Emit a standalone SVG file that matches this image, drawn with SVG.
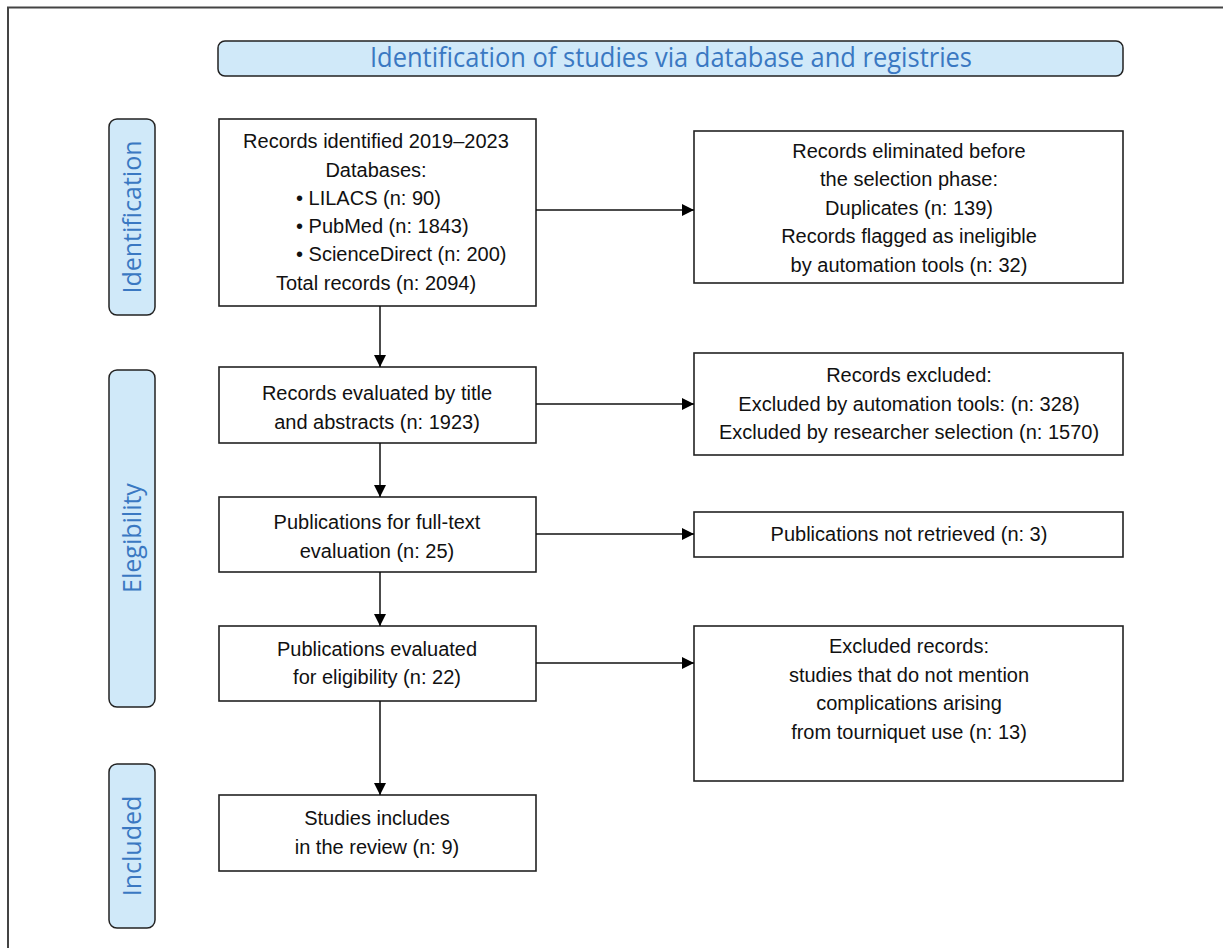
<svg xmlns="http://www.w3.org/2000/svg" width="1223" height="948" viewBox="0 0 1223 948">
<defs>
<marker id="ah" viewBox="0 0 10 10" refX="10" refY="5" markerWidth="12" markerHeight="12" markerUnits="userSpaceOnUse" orient="auto">
<path d="M0,0 L10,5 L0,10 Z" fill="#000"/>
</marker>
</defs>
<style>
.box{fill:#fff;stroke:#222;stroke-width:1.6}
.phase{fill:#d0e9f9;stroke:#222;stroke-width:1.5}
.t{font-family:"Liberation Sans",Arial,sans-serif;font-size:20px;fill:#111;text-anchor:middle}
.tl{font-family:"Liberation Sans",Arial,sans-serif;font-size:20px;fill:#111}
.pt{font-family:"Open Sans","Liberation Sans",sans-serif;font-size:25px;fill:#3a78c2;text-anchor:middle}
.conn{stroke:#111;stroke-width:1.5;fill:none;marker-end:url(#ah)}
</style>
<rect width="1223" height="948" fill="#fff"/>
<path d="M8,948 L8,7.5 L1223,7.5" fill="none" stroke="#444" stroke-width="2"/>

<g id="header">
<rect class="phase" x="218" y="41" width="905" height="35" rx="7"/>
<text class="pt" x="671" y="67" style="font-size:27px" textLength="602" lengthAdjust="spacingAndGlyphs">Identification of studies via database and registries</text>
</g>

<g id="phase-identification">
<rect class="phase" x="109" y="119" width="46" height="196" rx="8"/>
<text class="pt" transform="translate(141,217) rotate(-90)">Identification</text>
</g>
<g id="phase-elegibility">
<rect class="phase" x="109" y="370" width="46" height="337" rx="8"/>
<text class="pt" transform="translate(141,538) rotate(-90)">Elegibility</text>
</g>
<g id="phase-included">
<rect class="phase" x="109" y="764" width="46" height="164" rx="8"/>
<text class="pt" transform="translate(141,846) rotate(-90)">Included</text>
</g>

<g id="identified">
<rect class="box" x="219" y="119" width="317" height="187"/>
<text class="t" x="376" y="148">Records identified 2019–2023</text>
<text class="t" x="376" y="177">Databases:</text>
<text class="tl" x="296" y="205">•  LILACS (n: 90)</text>
<text class="tl" x="296" y="233">•  PubMed (n: 1843)</text>
<text class="tl" x="296" y="261">•  ScienceDirect (n: 200)</text>
<text class="t" x="376" y="290">Total records (n: 2094)</text>
</g>

<g id="eliminated">
<rect class="box" x="694" y="131" width="429" height="152"/>
<text class="t" x="909" y="158">Records eliminated before</text>
<text class="t" x="909" y="186">the selection phase:</text>
<text class="t" x="909" y="215">Duplicates (n: 139)</text>
<text class="t" x="909" y="243">Records flagged as ineligible</text>
<text class="t" x="909" y="272">by automation tools (n: 32)</text>
</g>

<g id="screened">
<rect class="box" x="219" y="367" width="317" height="76"/>
<text class="t" x="377" y="400">Records evaluated by title</text>
<text class="t" x="377" y="429">and abstracts (n: 1923)</text>
</g>

<g id="excluded">
<rect class="box" x="694" y="353" width="429" height="102"/>
<text class="t" x="909" y="382">Records excluded:</text>
<text class="t" x="909" y="411">Excluded by automation tools: (n: 328)</text>
<text class="t" x="909" y="439">Excluded by researcher selection (n: 1570)</text>
</g>

<g id="fulltext">
<rect class="box" x="219" y="497" width="317" height="75"/>
<text class="t" x="377" y="529">Publications for full-text</text>
<text class="t" x="377" y="558">evaluation (n: 25)</text>
</g>

<g id="notretrieved">
<rect class="box" x="694" y="512" width="429" height="45"/>
<text class="t" x="909" y="541">Publications not retrieved (n: 3)</text>
</g>

<g id="eligibility">
<rect class="box" x="219" y="626" width="317" height="75"/>
<text class="t" x="377" y="656">Publications evaluated</text>
<text class="t" x="377" y="684">for eligibility (n: 22)</text>
</g>

<g id="excludedrecords">
<rect class="box" x="694" y="626" width="429" height="155"/>
<text class="t" x="909" y="653">Excluded records:</text>
<text class="t" x="909" y="682">studies that do not mention</text>
<text class="t" x="909" y="710">complications arising</text>
<text class="t" x="909" y="739">from tourniquet use (n: 13)</text>
</g>

<g id="included">
<rect class="box" x="219" y="795" width="317" height="76"/>
<text class="t" x="377" y="825">Studies includes</text>
<text class="t" x="377" y="854">in the review (n: 9)</text>
</g>

<g id="connectors">
<line class="conn" x1="380" y1="306" x2="380" y2="367"/>
<line class="conn" x1="380" y1="443" x2="380" y2="497"/>
<line class="conn" x1="380" y1="572" x2="380" y2="626"/>
<line class="conn" x1="380" y1="701" x2="380" y2="795"/>
<line class="conn" x1="536" y1="210" x2="694" y2="210"/>
<line class="conn" x1="536" y1="404" x2="694" y2="404"/>
<line class="conn" x1="536" y1="534" x2="694" y2="534"/>
<line class="conn" x1="536" y1="663" x2="694" y2="663"/>
</g>
</svg>
